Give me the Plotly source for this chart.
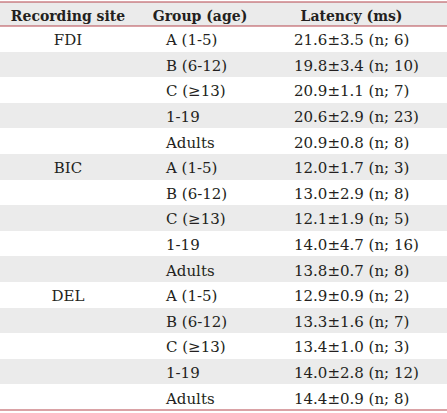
import plotly.graph_objects as go

W, H = 447, 413

headers = ["Recording site", "Group (age)", "Latency (ms)"]
sites = ["FDI", "", "", "", "", "BIC", "", "", "", "", "DEL", "", "", "", ""]
groups = ["A (1-5)", "B (6-12)", "C (≥13)", "1-19", "Adults"] * 3
latency = [
    "21.6±3.5 (n; 6)", "19.8±3.4 (n; 10)", "20.9±1.1 (n; 7)", "20.6±2.9 (n; 23)", "20.9±0.8 (n; 8)",
    "12.0±1.7 (n; 3)", "13.0±2.9 (n; 8)", "12.1±1.9 (n; 5)", "14.0±4.7 (n; 16)", "13.8±0.7 (n; 8)",
    "12.9±0.9 (n; 2)", "13.3±1.6 (n; 7)", "13.4±1.0 (n; 3)", "14.0±2.8 (n; 12)", "14.4±0.9 (n; 8)",
]

GREY = "#ebebeb"
RED = "#b5474f"
TXT = "#231f20"
FONT = "DejaVu Serif"
TOP = 2
HEADER_H = 24
ROW_H = 25.6

fills = [GREY if i % 2 == 1 else "white" for i in range(len(groups))]
n = len(groups)

fig = go.Figure()
# body table: fills and all body text
fig.add_trace(go.Table(
    domain=dict(x=[0, 1], y=[0, 1]),
    columnwidth=[136, 22, 128, 161],
    header=dict(values=["", "", "", ""], fill_color=GREY, line=dict(width=0), height=HEADER_H),
    cells=dict(values=[sites, [""] * n, groups, latency],
               align=["center", "left", "left", "left"],
               fill_color=[fills] * 4, line=dict(width=0), height=ROW_H,
               font=dict(family=FONT, size=15, color=TXT)),
))
# header text overlay (centered over its columns)
fig.add_trace(go.Table(
    domain=dict(x=[0, 1], y=[0, 1]),
    columnwidth=[136, 128, 175, 8],
    header=dict(values=headers + [""], align="center", fill_color="rgba(0,0,0,0)",
                line=dict(width=0), height=HEADER_H,
                font=dict(family=FONT, size=14, color=TXT, weight="bold")),
    cells=dict(values=[[], [], [], []], fill_color="rgba(0,0,0,0)", line=dict(width=0)),
))

plot_h = H - TOP
for p in [0, HEADER_H, HEADER_H + ROW_H * n]:
    fig.add_shape(type="line", xref="paper", yref="paper", x0=0, x1=1,
                  y0=1 - p / plot_h, y1=1 - p / plot_h,
                  line=dict(color=RED, width=1.2))

fig.update_layout(width=W, height=H, margin=dict(l=0, r=0, t=TOP, b=0),
                  paper_bgcolor="white", plot_bgcolor="white")
fig.write_html("out.html", config={"displayModeBar": False},
               post_script="document.body.style.margin='0';")
